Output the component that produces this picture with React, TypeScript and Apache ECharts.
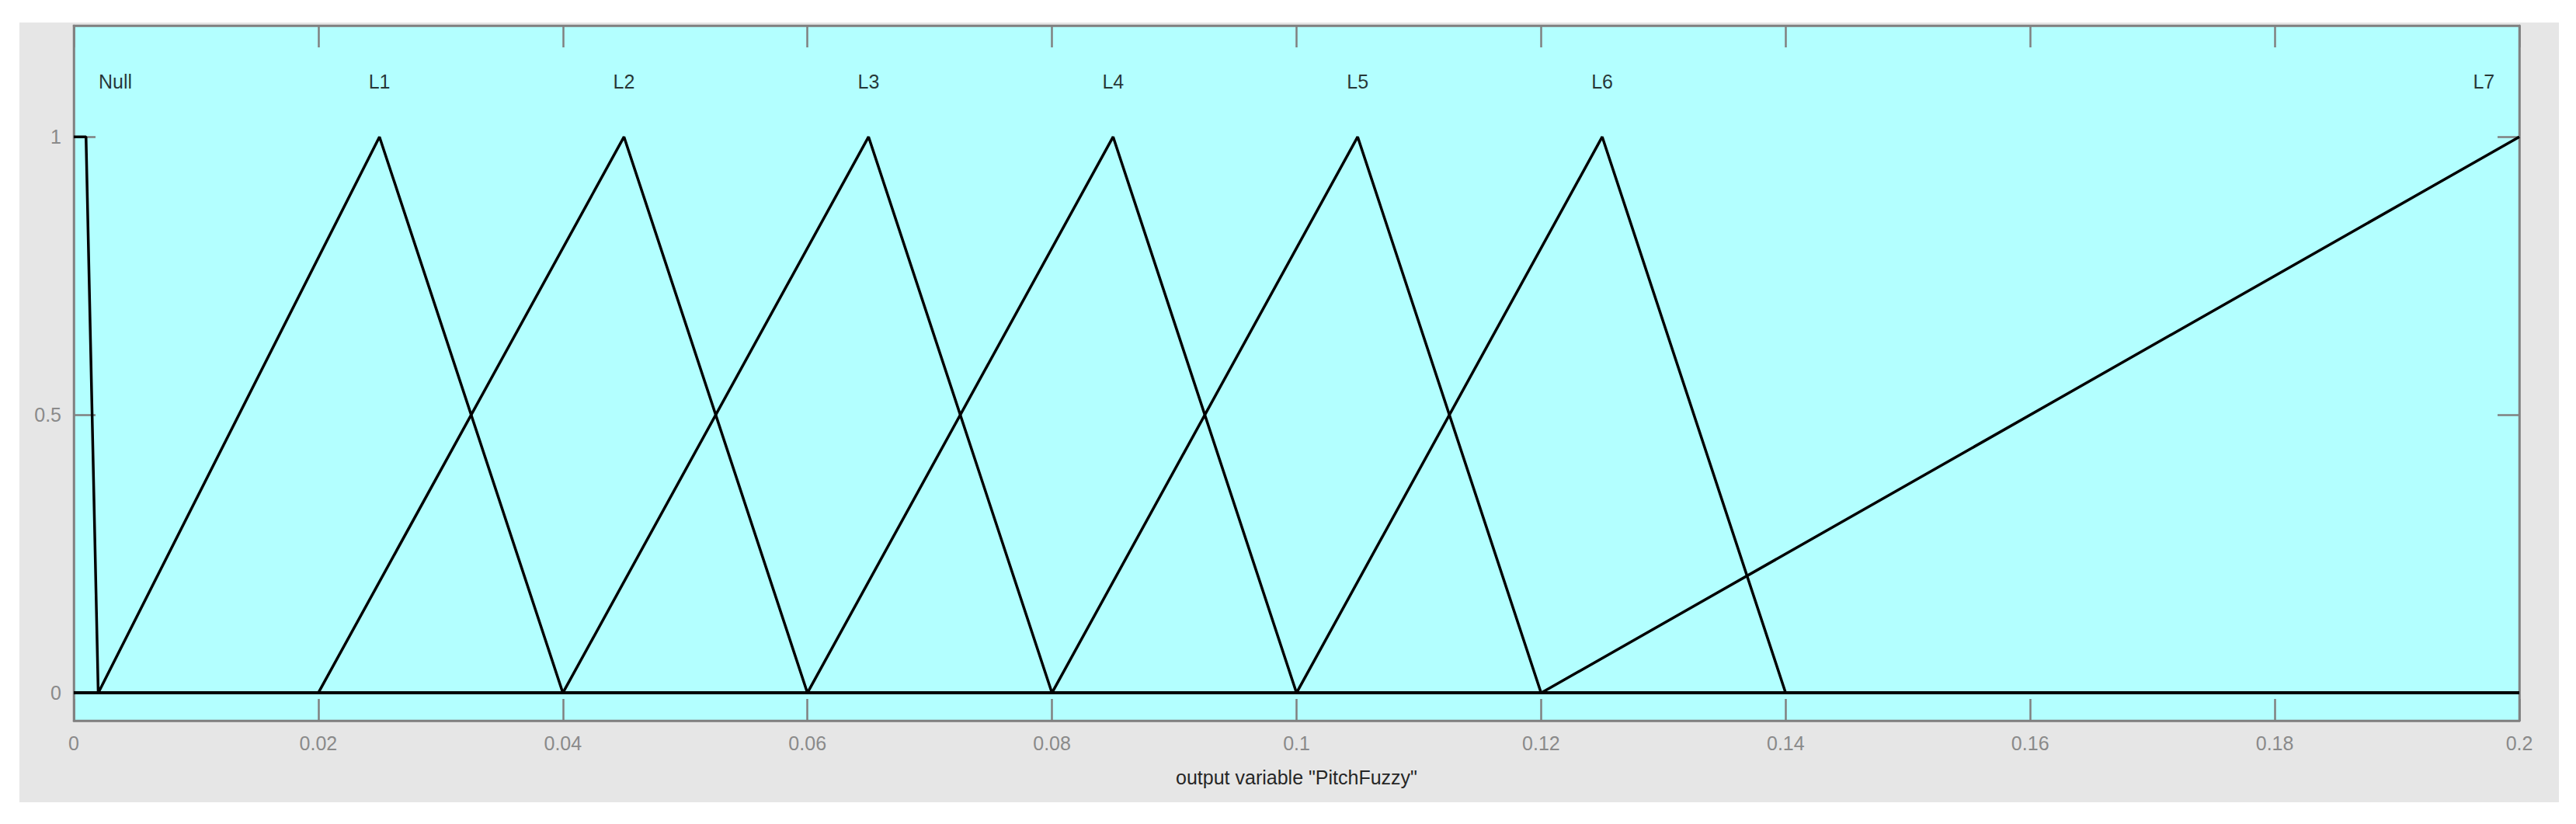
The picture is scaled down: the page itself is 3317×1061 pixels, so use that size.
import React, { useEffect, useRef } from "react";
import * as echarts from "echarts";

// Membership function names and their parameters (x values, output variable "PitchFuzzy")
const mfNames = ["Null", "L1", "L2", "L3", "L4", "L5", "L6", "L7"];
// Null is a trapezoid [a b c d]; L1..L6 are triangles [a b c]; L7 rises to 1 at 0.2
const nullParams = [0, 0, 0.001, 0.002];
const triParams = [
  [0.002, 0.025, 0.04],
  [0.02, 0.045, 0.06],
  [0.04, 0.065, 0.08],
  [0.06, 0.085, 0.1],
  [0.08, 0.105, 0.12],
  [0.1, 0.125, 0.14],
];
const l7Params = [0.12, 0.2];
// Label positions (x) at height 1.1
const labelX = [0.0034, 0.025, 0.045, 0.065, 0.085, 0.105, 0.125, 0.1971];
const labelY = 1.1;

const xMin = 0;
const xMax = 0.2;
const xInterval = 0.02;
const yMin = -0.05;
const yMax = 1.2;
const yTicks = [0, 0.5, 1];

const axisGray = "#808080";
const font = "'Liberation Sans', Arial, Helvetica, sans-serif";

export default function App() {
  const ref = useRef<HTMLDivElement>(null);

  useEffect(() => {
    if (!ref.current) return;
    const chart = echarts.init(ref.current, undefined, { renderer: "svg" });

    const lineSeries: any[] = [];
    lineSeries.push({
      type: "line",
      name: mfNames[0],
      data: [
        [nullParams[1], 1],
        [nullParams[2], 1],
        [nullParams[3], 0],
        [xMax, 0],
      ],
    });
    triParams.forEach((p, i) => {
      lineSeries.push({
        type: "line",
        name: mfNames[i + 1],
        data: [
          [xMin, 0],
          [p[0], 0],
          [p[1], 1],
          [p[2], 0],
          [xMax, 0],
        ],
      });
    });
    lineSeries.push({
      type: "line",
      name: mfNames[7],
      data: [
        [xMin, 0],
        [l7Params[0], 0],
        [l7Params[1], 1],
      ],
    });
    lineSeries.forEach((s) => {
      s.symbol = "none";
      s.lineStyle = { color: "#000000", width: 3.5 };
      s.itemStyle = { color: "#000000" };
      s.z = 5;
      s.animation = false;
    });

    const labelSeries = {
      type: "scatter",
      symbolSize: 0,
      data: mfNames.map((n, i) => ({ value: [labelX[i], labelY], name: n })),
      label: {
        show: true,
        position: "inside",
        formatter: (p: any) => p.name,
        color: "#000000",
        fontSize: 25,
        fontFamily: font,
      },
      z: 6,
    };

    const xCommon = {
      type: "value",
      min: xMin,
      max: xMax,
      interval: xInterval,
      axisLine: { show: true, onZero: false, lineStyle: { color: axisGray, width: 2.5 } },
      axisTick: { show: true, inside: true, length: 28, lineStyle: { color: axisGray, width: 2.5 } },
      splitLine: { show: false },
    };
    const yCommon = {
      type: "value",
      min: yMin,
      max: yMax,
      axisLine: { show: true, onZero: false, lineStyle: { color: axisGray, width: 2.5 } },
      axisTick: {
        show: true,
        inside: true,
        length: 28,
        customValues: yTicks,
        lineStyle: { color: axisGray, width: 2.5 },
      },
      splitLine: { show: false },
    };

    chart.setOption({
      animation: false,
      backgroundColor: "transparent",
      grid: {
        left: 95,
        top: 33,
        right: 73,
        bottom: 133,
        show: true,
        backgroundColor: "#b3ffff",
        borderColor: axisGray,
        borderWidth: 2.5,
      },
      xAxis: [
        {
          ...xCommon,
          position: "bottom",
          axisLabel: {
            show: true,
            color: "#8a8a8a",
            fontSize: 25,
            fontFamily: font,
            margin: 16,
          },
          name: 'output variable "PitchFuzzy"',
          nameLocation: "middle",
          nameGap: 60,
          nameTextStyle: { color: "#262626", fontSize: 25, fontFamily: font },
        },
        {
          ...xCommon,
          position: "top",
          axisLabel: { show: false },
        },
      ],
      yAxis: [
        {
          ...yCommon,
          position: "left",
          axisLabel: {
            show: true,
            customValues: yTicks,
            color: "#8a8a8a",
            fontSize: 25,
            fontFamily: font,
            margin: 16,
          },
        },
        {
          ...yCommon,
          position: "right",
          axisLabel: { show: false },
        },
      ],
      series: [...lineSeries, labelSeries],
    });

    return () => {
      chart.dispose();
    };
  }, []);

  return (
    <div
      style={{
        position: "fixed",
        left: 0,
        top: 0,
        width: 3317,
        height: 1061,
        background: "#ffffff",
      }}
    >
      <div
        style={{
          position: "absolute",
          left: 25,
          top: 29,
          width: 3270,
          height: 1004,
          background: "#e6e6e6",
        }}
      />
      <div
        ref={ref}
        style={{ position: "absolute", left: 0, top: 0, width: 3317, height: 1061 }}
      />
    </div>
  );
}
